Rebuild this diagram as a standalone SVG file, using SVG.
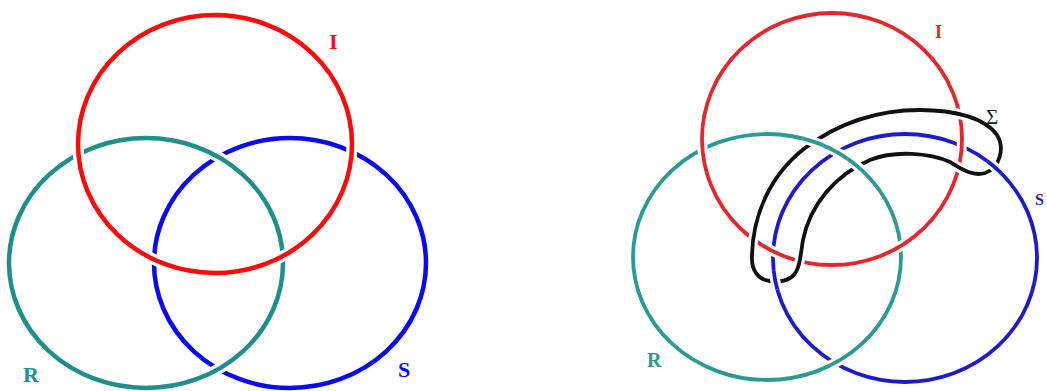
<svg xmlns="http://www.w3.org/2000/svg" width="1047" height="391" viewBox="0 0 1047 391">
<style>
.ring{fill:none}
.halo{fill:none;stroke:#fff}
.L{stroke-width:4.5}
.LH{stroke-width:11}
.R{stroke-width:3.8}
.RH{stroke-width:10}
.red{stroke:#ff0a0a}
.teal{stroke:#1f8f8c}
.blue{stroke:#0a0aee}
.red2{stroke:#e5262b}
.teal2{stroke:#2a9a92}
.blue2{stroke:#1c1cc8}
.band{fill:none;stroke:#111;stroke-width:3.8;stroke-linejoin:round}
.lbl{font-family:"Liberation Serif","Times New Roman",serif;font-weight:bold}
</style>
<defs>
<clipPath id="c1"><circle cx="813" cy="143" r="11"/></clipPath>
<clipPath id="c2"><circle cx="856" cy="166" r="11"/></clipPath>
<clipPath id="c3"><circle cx="775" cy="280" r="10"/></clipPath>
<clipPath id="c4"><circle cx="996" cy="165" r="10"/></clipPath>
</defs>
<rect width="1047" height="391" fill="#fff"/>

<!-- Left diagram -->
<g id="left-S">
<ellipse class="ring L blue" cx="290" cy="263" rx="136" ry="125"/>
</g>
<g id="left-R">
<ellipse class="halo LH" cx="146" cy="263" rx="137" ry="125"/>
<ellipse class="ring L teal" cx="146" cy="263" rx="137" ry="125"/>
</g>
<g id="left-I">
<ellipse class="halo LH" cx="215" cy="144" rx="137" ry="129"/>
<ellipse class="ring L red" cx="215" cy="144" rx="137" ry="129"/>
</g>
<g id="left-labels">
<text class="lbl" x="329" y="49" font-size="22" fill="#ff0a0a">I</text>
<text class="lbl" x="23" y="382" font-size="22" fill="#1f8f8c">R</text>
<text class="lbl" x="398" y="377" font-size="22" fill="#0a0aee">S</text>
</g>

<!-- Right diagram -->
<g id="right-S">
<ellipse class="ring R blue2" cx="905" cy="258" rx="132" ry="124"/>
</g>
<g id="right-R">
<ellipse class="halo RH" cx="767" cy="257" rx="134" ry="123"/>
<ellipse class="ring R teal2" cx="767" cy="257" rx="134" ry="123"/>
</g>
<g id="right-I">
<ellipse class="halo RH" cx="832" cy="139" rx="130" ry="126"/>
<ellipse class="ring R red2" cx="832" cy="139" rx="130" ry="126"/>
</g>
<g id="sigma-band">
<path class="halo RH" d="M 770 281 C 758 280 751 270 752 255 C 753 215 770 175 805 148 C 840 122 880 110 920 110 C 955 110 985 118 997 135 C 1005 148 1000 168 985 173 C 972 177 960 168 950 162 C 930 153 895 150 870 160 C 835 175 810 205 803 240 C 800 258 800 272 790 278 C 785 281 777 282 770 281 Z"/>
<path class="band" d="M 770 281 C 758 280 751 270 752 255 C 753 215 770 175 805 148 C 840 122 880 110 920 110 C 955 110 985 118 997 135 C 1005 148 1000 168 985 173 C 972 177 960 168 950 162 C 930 153 895 150 870 160 C 835 175 810 205 803 240 C 800 258 800 272 790 278 C 785 281 777 282 770 281 Z"/>
</g>
<g id="over-crossings">
<g clip-path="url(#c1)">
<ellipse class="halo RH" cx="767" cy="257" rx="134" ry="123"/>
<ellipse class="ring R teal2" cx="767" cy="257" rx="134" ry="123"/>
</g>
<g clip-path="url(#c2)">
<ellipse class="halo RH" cx="767" cy="257" rx="134" ry="123"/>
<ellipse class="ring R teal2" cx="767" cy="257" rx="134" ry="123"/>
</g>
<g clip-path="url(#c3)">
<ellipse class="halo RH" cx="905" cy="258" rx="132" ry="124"/>
<ellipse class="ring R blue2" cx="905" cy="258" rx="132" ry="124"/>
</g>
<g clip-path="url(#c4)">
<ellipse class="halo RH" cx="905" cy="258" rx="132" ry="124"/>
<ellipse class="ring R blue2" cx="905" cy="258" rx="132" ry="124"/>
</g>
</g>
<g id="right-labels">
<text class="lbl" x="935" y="38" font-size="18" fill="#e5262b">I</text>
<text x="986" y="124" font-size="21" fill="#222" font-family="Liberation Serif, Times New Roman, serif">Σ</text>
<text class="lbl" x="647" y="367" font-size="20" fill="#2a9a92">R</text>
<text class="lbl" x="1035" y="205" font-size="16" fill="#1c1cc8">S</text>
</g>
</svg>
